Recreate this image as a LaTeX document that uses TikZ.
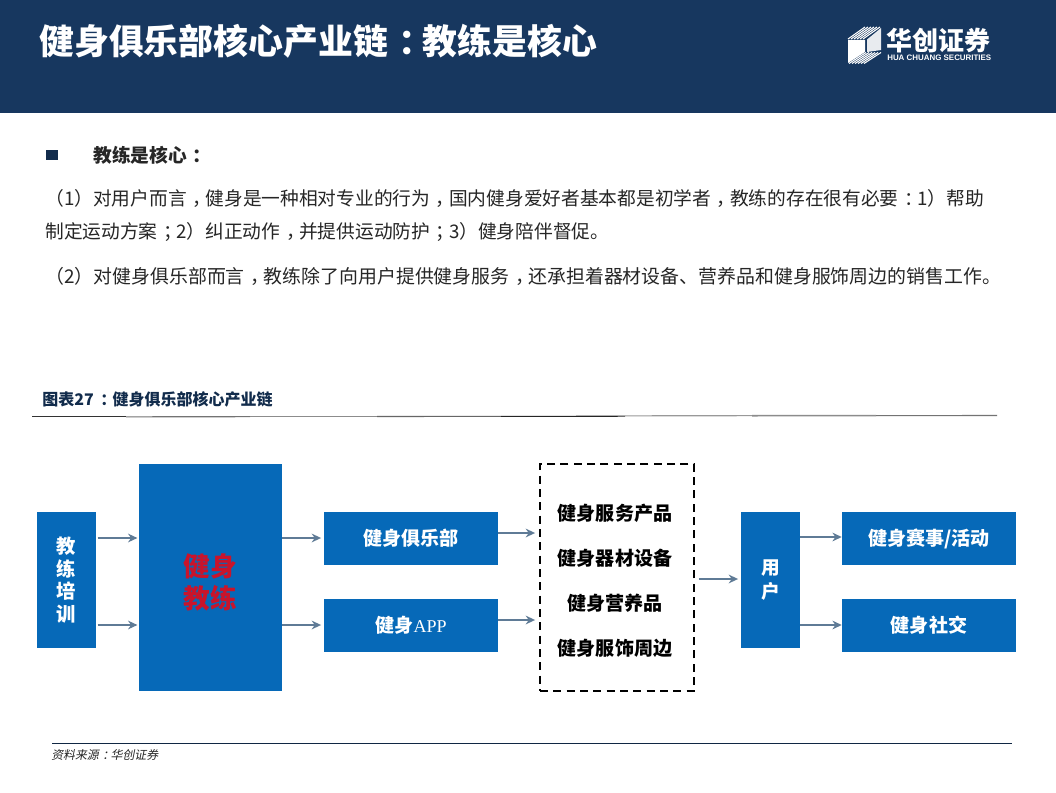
\documentclass[tikz,border=0pt]{standalone}
\usepackage{fontspec}
\setmainfont{Noto Sans CJK SC}
\newfontfamily\latinf{Liberation Sans}
\newfontfamily\serifl{Liberation Serif}
\usetikzlibrary{arrows.meta}
\definecolor{navy}{HTML}{17375F}
\definecolor{boxblue}{HTML}{0669B8}
\definecolor{arrowgrey}{HTML}{5F7B96}
\definecolor{redtxt}{HTML}{C9142B}
\definecolor{bodytxt}{HTML}{262626}
\newcommand\cp[1]{\kern.3em#1\kern-.3em}
\tikzset{
 blue box/.style={fill=boxblue,draw=none,minimum width=#1,inner sep=0pt,text=white,font=\fontsize{14.3pt}{17pt}\selectfont\bfseries,align=center},
 link/.style={draw=arrowgrey,line width=1.3pt,-{Stealth[length=7pt,width=6.5pt]}},
 bodyline/.style={anchor=west,inner sep=0pt,text=bodytxt,font=\fontsize{14.05pt}{17pt}\selectfont},
 listitem/.style={inner sep=0pt,text=black,font=\fontsize{14.3pt}{17pt}\selectfont\bfseries},
}
\begin{document}
\begin{tikzpicture}[x=0.75pt,y=-0.75pt]
\useasboundingbox (0,0) rectangle (1056,792);
\fill[white] (0,0) rectangle (1056,792);
\fill[navy] (0,0) rectangle (1056,113);
\node[anchor=west,inner sep=0pt,text=white,font=\fontsize{26.15pt}{30pt}\selectfont\bfseries] (title) at (39,41) {健身俱乐部核心产业链\cp{：}教练是核心};
% logo
\fill[white] (848,40) -- (865,40) -- (865,52) -- (848,63) -- cycle;
\fill[white!90!navy] (867,39.5) -- (881,28) -- (881,50) -- (867,52) -- cycle;
\foreach \d in {0,3,...,15}{
 \draw[white,line width=0.8pt] (848+\d,39) -- (865+\d,27);
 \draw[white,line width=0.8pt] (849+\d,63.5) -- (866+\d,52.5);
}
\node[anchor=west,inner sep=0pt,text=white,font=\fontsize{19.5pt}{24pt}\selectfont\bfseries] (logocn) at (886,41) {华创证券};
\node[anchor=west,inner sep=0pt,text=white,font=\latinf\fontsize{5.95pt}{8pt}\selectfont\bfseries] (logoen) at (887,57.5) {HUA CHUANG SECURITIES};
% text
\fill[navy!80!black] (46,150) rectangle (58,160);
\node[bodyline,font=\fontsize{14.05pt}{17pt}\selectfont\bfseries] (head) at (93,155) {教练是核心\cp{：}};
\node[bodyline] (l1) at (45,198) {（1）对用户而言\cp{，}健身是一种相对专业的行为\cp{，}国内健身爱好者基本都是初学者\cp{，}教练的存在很有必要\cp{：}1）帮助};
\node[bodyline] (l2) at (45,232) {制定运动方案\cp{；}2）纠正动作\cp{，}并提供运动防护\cp{；}3）健身陪伴督促。};
\node[bodyline,font=\fontsize{14.18pt}{17pt}\selectfont] (l3) at (45,276) {（2）对健身俱乐部而言\cp{，}教练除了向用户提供健身服务\cp{，}还承担着器材设备、营养品和健身服饰周边的销售工作。};
% figure caption
\node[anchor=west,inner sep=0pt,text=navy!80!black,font=\fontsize{12pt}{14pt}\selectfont\bfseries] (cap) at (42,399) {图表27\kern.12em\cp{：}\kern.06em健身俱乐部核心产业链};
\draw[line width=0.8pt,black!80] (32,416.8) -- (126,416.8);
\draw[line width=0.8pt,black!55] (126,416.8) -- (250,416.7);
\draw[line width=1.2pt,black!45] (250,416.6) -- (377,416.6);
\draw[line width=0.8pt,black!60] (377,416.5) -- (501,416.4);
\draw[line width=0.8pt,black!85] (501,416.4) -- (625,416.2);
\draw[line width=0.8pt,black!40] (625,415.8) -- (752,415.7);
\draw[line width=1.2pt,black!45] (752,415.7) -- (876,415.6);
\draw[line width=0.8pt,black!55] (876,415.6) -- (997,415.5);
\draw[line width=0.7pt,navy!70!black] (52,743) -- (1012,743);
\node[anchor=west,inner sep=0pt,text=black!85,font=\fontsize{8.9pt}{10pt}\selectfont,xslant=0.2] (src) at (52,755) {资料来源\cp{：}华创证券};
% boxes
\node[blue box=44.25pt,minimum height=102pt,font=\fontsize{14.5pt}{17pt}\selectfont\bfseries] (train) at (66.5,580) {教\\练\\培\\训};
\node[blue box=107.25pt,minimum height=170.25pt] (coach) at (210.5,577.5) {};
\node[inner sep=0pt,align=center,text=redtxt,font=\fontsize{20pt}{24pt}\selectfont\bfseries] (coachtxt) at (210,582) {健身\\教练};
\node[blue box=130.5pt,minimum height=39.75pt] (club) at (411,538.5) {健身俱乐部};
\node[blue box=130.5pt,minimum height=39.75pt] (app) at (411,625.5) {健身{\serifl\mdseries\fontsize{13.5pt}{17pt}\selectfont APP}};
\node[draw=black,line width=1.4pt,dash pattern=on 6pt off 4pt,minimum width=115.5pt,minimum height=170.25pt,inner sep=0pt] (prod) at (617,577.5) {};
\node[listitem] (p1) at (615,513) {健身服务产品};
\node[listitem] (p2) at (615,558) {健身器材设备};
\node[listitem] (p3) at (615,603) {健身营养品};
\node[listitem] (p4) at (615,648) {健身服饰周边};
\node[blue box=44.25pt,minimum height=102pt,font=\fontsize{14pt}{17.5pt}\selectfont\bfseries] (user) at (770.5,580) {用\\户};
\node[blue box=130.5pt,minimum height=39.75pt] (event) at (929,538.5) {健身赛事/活动};
\node[blue box=130.5pt,minimum height=39.75pt] (social) at (929,625.5) {健身社交};
% connectors
\coordinate (ya) at (0,538); \coordinate (yb) at (0,625); \coordinate (yc) at (0,533); \coordinate (yd) at (0,620); \coordinate (ye) at (0,579); \coordinate (yf) at (0,537);
\draw[link,shorten <=1pt,shorten >=1pt] (train.east |- ya) -- (coach.west |- ya);
\draw[link,shorten <=1pt,shorten >=1pt] (train.east |- yb) -- (coach.west |- yb);
\draw[link,shorten >=2pt] (coach.east |- ya) -- (club.west |- ya);
\draw[link,shorten >=2pt] (coach.east |- yb) -- (app.west |- yb);
\draw[link,shorten >=3pt] (club.east |- yc) -- (prod.west |- yc);
\draw[link,shorten >=3pt] (app.east |- yd) -- (prod.west |- yd);
\draw[link,shorten <=3pt,shorten >=2pt] (prod.east |- ye) -- (user.west |- ye);
\draw[link] (user.east |- yf) -- (event.west |- yf);
\draw[link] (user.east |- yb) -- (social.west |- yb);
\end{tikzpicture}
\end{document}
